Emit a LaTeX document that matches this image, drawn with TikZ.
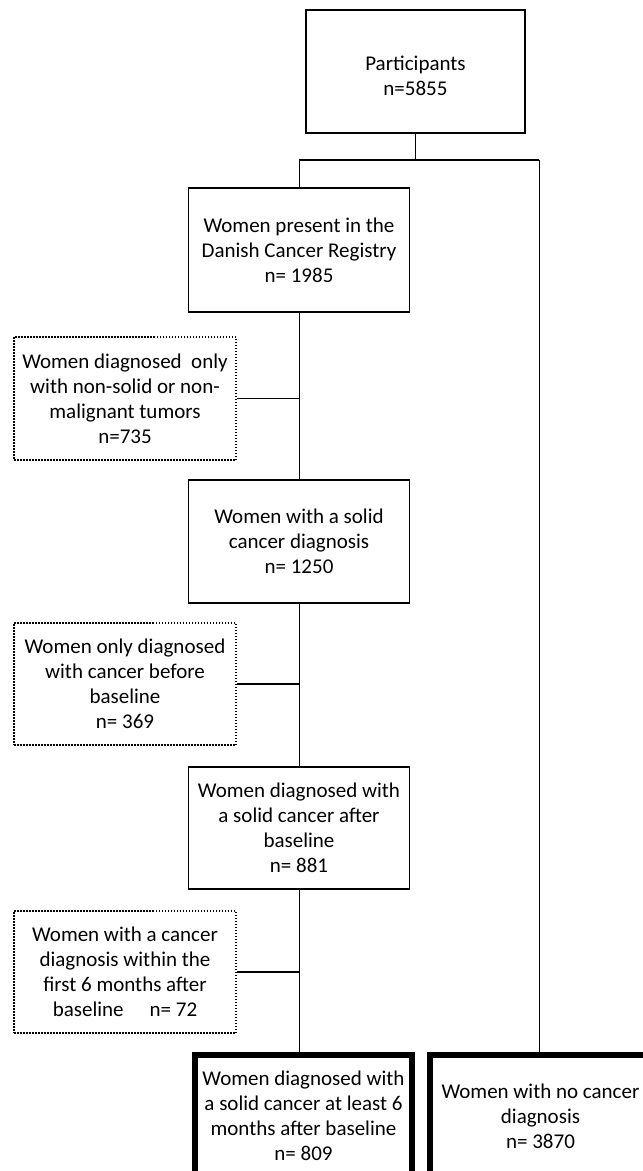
\documentclass[tikz,border=0pt]{standalone}
\usepackage{fontspec}
\setmainfont{Carlito}
\begin{document}
\begin{tikzpicture}[x=1pt,y=-1pt,
  txt/.style={align=center,inner sep=0pt,font=\fontsize{21}{25}\selectfont},
  mainbox/.style={txt,draw,line width=1.6pt,minimum width=221pt,minimum height=123pt},
  dotbox/.style={txt,draw,line width=1.5pt,dash pattern=on 1.5pt off 1.5pt,minimum width=222pt,minimum height=122pt},
  finalbox/.style={txt,draw,line width=6pt,minimum width=217pt,minimum height=122pt},
  conn/.style={line width=1pt},
  connthick/.style={line width=1.6pt}]
\useasboundingbox (0,0) rectangle (643,1171);
\fill[white] (0,0) rectangle (643,1171);

\node[mainbox,minimum width=219pt] (top) at (415.5,71.5) {};
\node[txt] (toptext) at (415.5,76) {Participants\\n=5855};
\node[mainbox,minimum height=124pt] (box2) at (299,250) {Women present in the\\Danish Cancer Registry\\n= 1985};
\node[dotbox,minimum height=123pt] (d1) at (125,398.5) {Women diagnosed~ only\\with non-solid or non-\\malignant tumors\\n=735};
\node[mainbox] (box3) at (299,541.5) {Women with a solid\\cancer diagnosis\\n= 1250};
\node[dotbox] (d2) at (125,684) {Women only diagnosed\\with cancer before\\baseline\\n= 369};
\node[mainbox,minimum height=122pt] (box4) at (299,828) {Women diagnosed with\\a solid cancer after\\baseline\\n= 881};
\node[dotbox] (d3) at (125,972) {Women with a cancer\\diagnosis within the\\first 6 months after\\baseline\hspace{26pt}n= 72};
\node[finalbox] (bl) at (303.5,1116) {Women diagnosed with\\a solid cancer at least 6\\months after baseline\\n= 809};
\node[finalbox,minimum width=222pt] (br) at (540.5,1116) {Women with no cancer\\diagnosis\\n= 3870};

\coordinate (jl) at (299,160);
\coordinate (jr) at (539,160);

\draw[connthick] (top.south) -- (top.south |- jl);
\draw[connthick] (jl) -- (jr);
\draw[conn] (jl) -- (box2.north);
\draw[conn] (jr) -- (jr |- br.north);
\draw[conn] (box2.south) -- (box3.north);
\draw[conn] (d1.east) -- (d1.east -| box2.south);
\draw[conn] (box3.south) -- (box4.north);
\draw[connthick] (d2.east) -- (d2.east -| box3.south);
\draw[conn] (box4.south) -- (box4.south |- bl.north);
\draw[connthick] (d3.east) -- (d3.east -| box4.south);
\end{tikzpicture}
\end{document}
